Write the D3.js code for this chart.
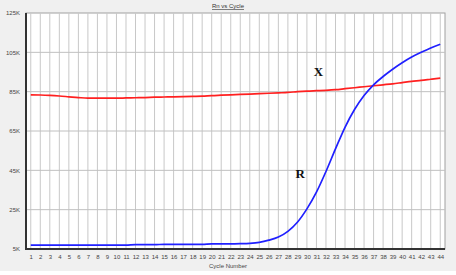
<!DOCTYPE html>
<html><head><meta charset="utf-8">
<script src="https://cdn.jsdelivr.net/npm/d3@7"></script>
<style>body{margin:0;background:#fff}svg{display:block}</style>
</head><body>
<svg id="c" width="456" height="275"></svg>
<script>
const cycles = d3.range(1, 45);
const redValues = [83.4,83.3,83.1,82.8,82.4,82.0,81.7,81.7,81.7,81.7,81.8,81.9,82.0,82.2,82.3,82.4,82.5,82.6,82.7,83.0,83.2,83.4,83.6,83.8,84.0,84.2,84.4,84.6,85.0,85.3,85.5,85.7,86.0,86.5,87.0,87.5,88.0,88.5,89.0,89.6,90.2,90.7,91.3,91.9];
const blueValues = [7.0,7.0,7.0,7.0,7.0,7.0,7.0,7.0,7.0,7.0,7.0,7.2,7.2,7.2,7.4,7.4,7.4,7.4,7.4,7.6,7.6,7.6,7.7,7.9,8.4,9.5,11.1,14.0,18.6,25.4,33.9,44.4,55.9,66.9,75.9,83.0,88.5,92.7,96.4,99.7,102.6,105.0,107.2,109.1];
const yTicks = [5,25,45,65,85,105,125];
const title = "Rn vs Cycle";
const xLabel = "Cycle Number";
const annotations = [{t:"X", cycle:31.2, v:93.0}, {t:"R", cycle:29.3, v:41.0}];

const svg = d3.select("#c");
svg.append("rect").attr("width",456).attr("height",271).attr("fill","#f0f0f0");
const L=26, T=13, R=445, B=249;
const x = d3.scaleLinear().domain([0.5,44.5]).range([L,R]);
const y = d3.scaleLinear().domain([5,125]).range([B,T]);

svg.append("rect").attr("x",L).attr("y",T).attr("width",R-L).attr("height",B-T).attr("fill","#fff").attr("stroke","#a0a0a0").attr("stroke-width",1);

// gridlines
svg.append("g").selectAll("line").data(cycles).join("line")
  .attr("x1",d=>x(d)).attr("x2",d=>x(d)).attr("y1",T).attr("y2",B)
  .attr("stroke","#c8c8c8").attr("stroke-width",1);
svg.append("g").selectAll("line").data(yTicks.slice(1,-1)).join("line")
  .attr("x1",L).attr("x2",R).attr("y1",d=>y(d)).attr("y2",d=>y(d))
  .attr("stroke","#c0c0c0").attr("stroke-width",1);

// axes
const yAxis = d3.axisLeft(y).tickValues(yTicks).tickFormat(d=>d+"K").tickSize(0).tickPadding(6);
const gy = svg.append("g").attr("transform",`translate(${L},0)`).call(yAxis);
gy.select(".domain").remove();
gy.selectAll("text").attr("font-family","Liberation Sans, Arial").attr("font-size",6).attr("fill","#444");
const xAxis = d3.axisBottom(x).tickValues(cycles).tickFormat(d3.format("d")).tickSize(0).tickPadding(6);
const gx = svg.append("g").attr("transform",`translate(0,${B})`).call(xAxis);
gx.select(".domain").remove();
gx.selectAll("text").attr("font-family","Liberation Sans, Arial").attr("font-size",6).attr("fill","#444");

svg.append("line").attr("x1",L).attr("x2",L).attr("y1",T).attr("y2",B+1).attr("stroke","#333").attr("stroke-width",2);
svg.append("line").attr("x1",L).attr("x2",R).attr("y1",B).attr("y2",B).attr("stroke","#333").attr("stroke-width",2);

// lines
const line = d3.line().x((d,i)=>x(cycles[i])).y(d=>y(d)).curve(d3.curveMonotoneX);
svg.append("path").datum(redValues).attr("d",line).attr("fill","none").attr("stroke","#ff2020").attr("stroke-width",1.7);
svg.append("path").datum(blueValues).attr("d",line).attr("fill","none").attr("stroke","#2020ff").attr("stroke-width",1.7);

// title & label
svg.append("text").attr("x",228).attr("y",8).attr("text-anchor","middle").attr("font-family","Liberation Sans, Arial").attr("font-size",6).attr("fill","#333").attr("text-decoration","underline").text(title);
svg.append("text").attr("x",228).attr("y",268).attr("text-anchor","middle").attr("font-family","Liberation Sans, Arial").attr("font-size",6).attr("fill","#444").text(xLabel);

svg.append("g").selectAll("text").data(annotations).join("text")
  .attr("x",d=>x(d.cycle)).attr("y",d=>y(d.v)).attr("text-anchor","middle")
  .attr("font-family","Liberation Serif, Times New Roman").attr("font-weight","bold").attr("font-size",13).attr("fill","#111")
  .text(d=>d.t);
</script>
</body></html>
